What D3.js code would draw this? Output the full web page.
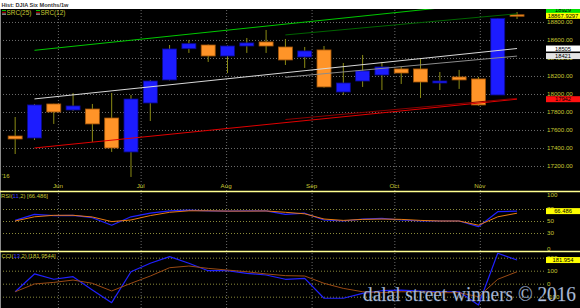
<!DOCTYPE html>
<html>
<head>
<meta charset="utf-8">
<script src="https://cdn.jsdelivr.net/npm/d3@7"></script>
<style>
  html, body { margin: 0; padding: 0; background: #000; }
  svg { display: block; font-family: 'Liberation Sans', Arial, sans-serif; }
</style>
</head>
<body>
<div id="graph"></div>
<script>
// weekly DJIA candles
const weeks = ['2016-05-16', '2016-05-23', '2016-05-30', '2016-06-06', '2016-06-13', '2016-06-20', '2016-06-27',
  '2016-07-04', '2016-07-11', '2016-07-18', '2016-07-25', '2016-08-01', '2016-08-08', '2016-08-15',
  '2016-08-22', '2016-08-29', '2016-09-05', '2016-09-12', '2016-09-19', '2016-09-26', '2016-10-03',
  '2016-10-10', '2016-10-17', '2016-10-24', '2016-10-31', '2016-11-07', '2016-11-14'];
const open = [17533, 17511, 17889, 17822, 17833, 17733, 17356, 17900, 18156, 18503, 18544, 18422, 18533, 18578,
  18522, 18411, 18489, 18022, 18144, 18211, 18278, 18278, 18122, 18189, 18167, 17989, 18880];
const high = [17744, 17889, 17891, 18011, 17889, 18011, 17989, 18156, 18544, 18600, 18550, 18540, 18622, 18711,
  18611, 18522, 18533, 18344, 18433, 18356, 18300, 18389, 18244, 18267, 18189, 18844, 18911];
const low = [17333, 17489, 17667, 17811, 17467, 17356, 17078, 17700, 18150, 18456, 18356, 18233, 18456, 18456,
  18322, 18289, 18070, 17989, 18078, 18044, 18111, 17956, 18044, 18056, 17870, 17989, 18833];
const close = [17500, 17878, 17800, 17867, 17667, 17400, 17944, 18144, 18500, 18559, 18422, 18533, 18567, 18533,
  18378, 18478, 18078, 18122, 18256, 18300, 18233, 18133, 18144, 18156, 17878, 18840, 18867.93];

// RSI and CCI with their signal lines
const rsi = [51, 61, 59, 59.5, 55.5, 43, 57, 63, 67, 68, 67, 66.5, 67, 67, 61, 63, 51.7, 50, 53, 54.5, 51.7, 50,
  50, 50, 40.5, 65.5, 66.486];
const rsiSignal = [50, 57, 59.5, 59.5, 56.7, 49, 51.7, 59, 64.5, 67, 67, 66.5, 66.5, 66.7, 64.5, 62, 53.3, 51,
  52.7, 53.3, 52.7, 51, 50, 50, 43, 57, 63];
const cci = [-62, 75, 34, 54, -48, -146, 92, 157, 208, 157, 100, 100, 80, 67, 34, 41, -112, -112, -74, -54, -49,
  -56, -62, -62, -164, 234, 181.954];
const cciSignal = [-62, -2, 10, 28, 3, -56, 3, 59, 123, 136, 118, 105, 92, 75, 62, 59, 3, -36, -62, -69, -62,
  -62, -69, -69, -100, 34, 92];

// regression channels: [start week, end week], values at both ends
const src25Weeks = ['2016-05-23', '2016-11-14'];
const src25Upper = [18485, 19045];
const src25Mid = [17945, 18505];
const src25Lower = [17400, 17942];
const src12Weeks = ['2016-08-22', '2016-11-14'];
const src12Upper = [18656, 18891];
const src12Mid = [18186, 18421];
const src12Lower = [17716, 17951];

const priceTicks = [17200, 17400, 17600, 17800, 18000, 18200, 18400, 18600, 18800];
const rsiTicks = [100, 70, 50, 30, 0];
const rsiGrid = [70, 50, 30];
const cciTicks = [200, 100, 0, -100];
const tagValues = [18929, 18867.93, 18505, 18421, 17942];
const tagTexts = ['18929', '18867.9297', '18505', '18421', '17942'];
const tagColors = ['#00e000', '#ffff00', '#ffffff', '#e4e4e4', '#ff1010'];

const width = 580;
const height = 308;
const plotRight = 545;
const labelColor = '#c8c832';
const parse = d3.timeParse('%Y-%m-%d');

const panels = {
  main: { top: 9, bottom: 191 },
  rsi: { top: 191, bottom: 251 },
  cci: { top: 251, bottom: 308 },
};

const xScale = d3.scaleTime()
  .domain([new Date(2016, 4, 11), new Date(2016, 10, 25)])
  .range([0, 546]);
// bars sit at mid-day of their week start
const xBar = (d) => xScale(d3.timeHour.offset(parse(d), 12));

const yScale = d3.scaleLinear().domain([16922, 18944]).range([191, 9]);
const rsiScale = d3.scaleLinear().domain([0, 100]).range([251, 191]);
const cciScale = d3.scaleLinear().domain([-200, 250]).range([309.7, 251.2]);

const svg = d3.select('#graph')
  .append('svg')
  .attr('width', width)
  .attr('height', height);

svg.append('rect').attr('width', width).attr('height', height).attr('fill', '#000');

const defs = svg.append('defs');
Object.entries(panels).forEach(([key, p]) => {
  defs.append('clipPath')
    .attr('id', `clip-${key}`)
    .append('rect')
    .attr('x', 0)
    .attr('y', p.top)
    .attr('width', 546)
    .attr('height', p.bottom - p.top);
});

const drawGrid = () => {
  // month verticals across all panels
  const xAxis = d3.axisBottom(xScale)
    .ticks(d3.timeMonth.every(1))
    .tickSize(-(height - 9))
    .tickFormat('');
  const gx = svg.append('g')
    .attr('transform', `translate(0, ${height})`)
    .call(xAxis);
  gx.select('.domain').remove();
  gx.selectAll('line')
    .attr('stroke', '#6a6a6a')
    .attr('stroke-dasharray', '1,2');

  const gy = svg.append('g')
    .call(d3.axisRight(yScale).tickValues(priceTicks).tickSize(plotRight).tickFormat(''));
  gy.select('.domain').remove();
  gy.selectAll('line')
    .attr('stroke', '#6e6e6e')
    .attr('stroke-dasharray', '1,2');

  const gr = svg.append('g')
    .call(d3.axisRight(rsiScale).tickValues(rsiGrid).tickSize(plotRight).tickFormat(''));
  gr.select('.domain').remove();
  gr.selectAll('line')
    .attr('stroke', '#8a8a3a')
    .attr('stroke-dasharray', '1,2');

  const gc = svg.append('g')
    .call(d3.axisRight(cciScale).tickValues(cciTicks).tickSize(plotRight).tickFormat(''));
  gc.select('.domain').remove();
  gc.selectAll('line')
    .attr('stroke', '#8a8a3a')
    .attr('stroke-dasharray', '1,2');

  // left border
  svg.append('line')
    .attr('x1', 0.5).attr('x2', 0.5)
    .attr('y1', 9).attr('y2', height)
    .attr('stroke', '#8a8a8a');
};

const drawAxisLabels = () => {
  const fmt = d3.format('.2f');
  svg.append('g')
    .selectAll('text')
    .data(priceTicks)
    .enter()
    .append('text')
    .attr('x', 547)
    .attr('y', (d) => yScale(d))
    .attr('dy', '0.35em')
    .attr('font-size', 6.2)
    .attr('fill', labelColor)
    .text((d) => fmt(d));

  const clampRsi = (d) => Math.max(194.5, Math.min(248.5, rsiScale(d)));
  svg.append('g')
    .selectAll('text')
    .data(rsiTicks)
    .enter()
    .append('text')
    .attr('x', 547)
    .attr('y', clampRsi)
    .attr('dy', '0.35em')
    .attr('font-size', 6.2)
    .attr('fill', labelColor)
    .text((d) => d);

  svg.append('g')
    .selectAll('text')
    .data(cciTicks)
    .enter()
    .append('text')
    .attr('x', 547)
    .attr('y', (d) => Math.max(255, cciScale(d)))
    .attr('dy', '0.35em')
    .attr('font-size', 6.2)
    .attr('fill', labelColor)
    .text((d) => d);

  svg.append('g')
    .selectAll('text')
    .data(xScale.ticks(d3.timeMonth.every(1)))
    .enter()
    .append('text')
    .attr('x', (d) => xScale(d))
    .attr('y', 188)
    .attr('text-anchor', 'middle')
    .attr('font-size', 6.2)
    .attr('fill', labelColor)
    .text(d3.timeFormat('%b'));

  svg.append('text')
    .attr('x', 1.5)
    .attr('y', 178)
    .attr('font-size', 6)
    .attr('fill', labelColor)
    .text('\u201916');
};

const drawCandles = () => {
  const g = svg.append('g').attr('clip-path', 'url(#clip-main)');
  const idx = d3.range(weeks.length);
  const bw = 14;

  g.selectAll('.wick')
    .data(idx)
    .enter()
    .append('line')
    .attr('class', 'wick')
    .attr('x1', (i) => xBar(weeks[i]))
    .attr('x2', (i) => xBar(weeks[i]))
    .attr('y1', (i) => yScale(high[i]))
    .attr('y2', (i) => yScale(low[i]))
    .attr('stroke', '#8c8c14')
    .attr('stroke-width', 1);

  g.selectAll('.body')
    .data(idx)
    .enter()
    .append('rect')
    .attr('class', 'body')
    .attr('x', (i) => xBar(weeks[i]) - bw / 2)
    .attr('y', (i) => yScale(Math.max(open[i], close[i])))
    .attr('width', bw)
    .attr('height', (i) => Math.max(1.5, Math.abs(yScale(open[i]) - yScale(close[i]))))
    .attr('fill', (i) => (close[i] >= open[i] ? '#1c1cff' : '#ff9428'))
    .attr('stroke', (i) => (close[i] >= open[i] ? '#0a0a90' : '#a05408'))
    .attr('stroke-width', 0.8);
};

const drawChannel = (ws, vals, color, w) => {
  svg.append('line')
    .attr('clip-path', 'url(#clip-main)')
    .attr('x1', xBar(ws[0]))
    .attr('x2', xBar(ws[1]))
    .attr('y1', yScale(vals[0]))
    .attr('y2', yScale(vals[1]))
    .attr('stroke', color)
    .attr('stroke-width', w);
};

const drawIndicator = (scale, values, color, w, clip) => {
  const line = d3.line()
    .x((d, i) => xBar(weeks[i]))
    .y((d) => scale(d));
  svg.append('path')
    .datum(values)
    .attr('clip-path', `url(#clip-${clip})`)
    .attr('fill', 'none')
    .attr('stroke', color)
    .attr('stroke-width', w)
    .attr('stroke-linejoin', 'round')
    .attr('d', line);
};

const drawTag = (y, text, bg) => {
  svg.append('rect')
    .attr('x', 546)
    .attr('y', y - 3)
    .attr('width', 34)
    .attr('height', 6)
    .attr('fill', bg);
  svg.append('text')
    .attr('x', 563)
    .attr('y', y)
    .attr('dy', '0.35em')
    .attr('text-anchor', 'middle')
    .attr('font-size', 5.8)
    .attr('fill', '#000')
    .text(text);
};

const drawSeparators = () => {
  [panels.rsi.top, panels.cci.top].forEach((y) => {
    svg.append('line')
      .attr('x1', 0).attr('x2', width)
      .attr('y1', y + 0.5).attr('y2', y + 0.5)
      .attr('stroke', '#ffff90')
      .attr('stroke-width', 1.3);
  });
};

const drawLegends = () => {
  svg.append('rect').attr('x', 0).attr('y', 0).attr('width', width).attr('height', 9).attr('fill', '#fff');
  svg.append('text')
    .attr('x', 1.5)
    .attr('y', 6.8)
    .attr('font-size', 5.6)
    .attr('font-weight', 'bold')
    .attr('fill', '#333')
    .text('Hist: DJIA Six Months/1w');

  [[2, 'SRC(25)', ['#00c000', '#c00000', '#d0d0d0']], [36, 'SRC(12)', ['#00c000', '#c00000', '#d0d0d0']]]
    .forEach(([x0, label, cols]) => {
      cols.forEach((c, k) => {
        svg.append('line')
          .attr('x1', x0).attr('x2', x0 + 4)
          .attr('y1', 10.5 + k * 1.8).attr('y2', 10.5 + k * 1.8)
          .attr('stroke', c)
          .attr('stroke-width', 1);
      });
      svg.append('text')
        .attr('x', x0 + 4.5)
        .attr('y', 15)
        .attr('font-size', 6.4)
        .attr('fill', labelColor)
        .text(label);
    });

  const rsiLabel = svg.append('text')
    .attr('x', 1)
    .attr('y', 197.8)
    .attr('font-size', 5.8)
    .attr('fill', labelColor);
  rsiLabel.append('tspan').text('RSI(');
  rsiLabel.append('tspan').attr('fill', '#3a3aff').text('11');
  rsiLabel.append('tspan').text(',2)  [66.486]');

  const cciLabel = svg.append('text')
    .attr('x', 1.5)
    .attr('y', 257.5)
    .attr('font-size', 5.8)
    .attr('fill', labelColor);
  cciLabel.append('tspan').text('CCI(');
  cciLabel.append('tspan').attr('fill', '#3a3aff').text('13');
  cciLabel.append('tspan').text(',2)  [181.9544]');
};

const drawWatermark = () => {
  svg.append('text')
    .attr('x', 363)
    .attr('y', 300.5)
    .attr('font-family', "'Liberation Serif', 'Times New Roman', serif")
    .attr('font-size', 20)
    .attr('textLength', 213)
    .attr('lengthAdjust', 'spacingAndGlyphs')
    .attr('fill', '#b6c4de')
    .attr('stroke', '#5a6a90')
    .attr('stroke-width', 0.25)
    .text('dalal street winners \u00a9 2016');
};

const renderGraph = () => {
  drawGrid();
  drawAxisLabels();
  drawCandles();

  drawChannel(src25Weeks, src25Upper, '#00c800', 1);
  drawChannel(src25Weeks, src25Mid, '#d8d8d8', 1);
  drawChannel(src25Weeks, src25Lower, '#e00000', 1);
  drawChannel(src12Weeks, src12Upper, '#006400', 1);
  drawChannel(src12Weeks, src12Mid, '#8c8c8c', 1);
  drawChannel(src12Weeks, src12Lower, '#8a0000', 1);

  drawIndicator(rsiScale, rsi, '#2020ff', 1.2, 'rsi');
  drawIndicator(rsiScale, rsiSignal, '#e87a10', 1, 'rsi');
  drawIndicator(cciScale, cci, '#2020ff', 1.2, 'cci');
  drawIndicator(cciScale, cciSignal, '#9a4a14', 1, 'cci');

  drawSeparators();

  tagValues.forEach((v, i) => drawTag(yScale(v), tagTexts[i], tagColors[i]));
  drawTag(rsiScale(66.486), '66.486', '#ffff00');
  drawTag(cciScale(181.954), '181.954', '#ffff00');

  drawLegends();
  drawWatermark();
};

renderGraph();
</script>
</body>
</html>
